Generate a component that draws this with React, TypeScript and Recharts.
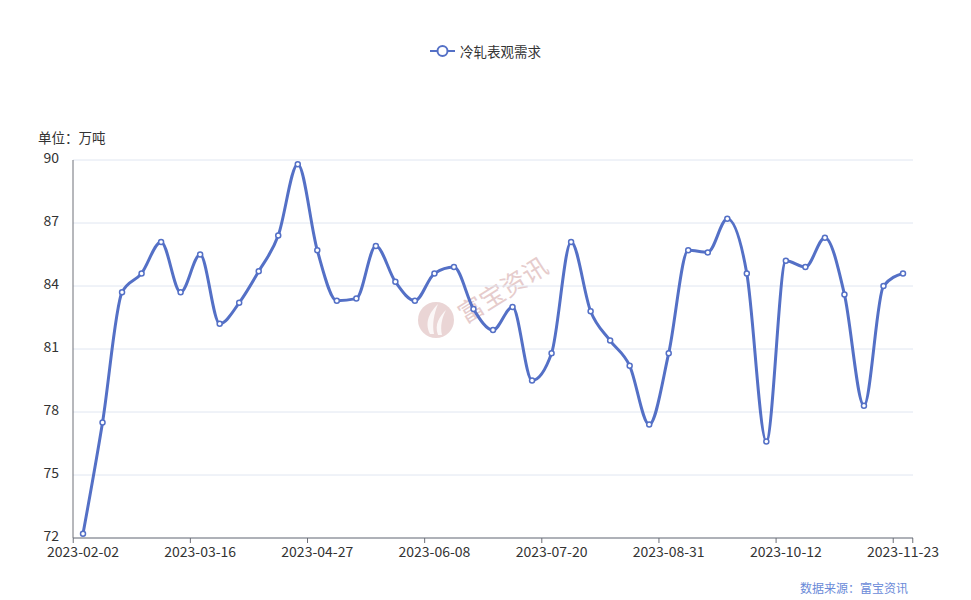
import React from "react";
import { LineChart, Line, XAxis, YAxis, CartesianGrid } from "recharts";

const dates = [
  "2023-02-02", "2023-02-09", "2023-02-16", "2023-02-23", "2023-03-02", "2023-03-09",
  "2023-03-16", "2023-03-23", "2023-03-30", "2023-04-06", "2023-04-13", "2023-04-20",
  "2023-04-27", "2023-05-04", "2023-05-11", "2023-05-18", "2023-05-25", "2023-06-01",
  "2023-06-08", "2023-06-15", "2023-06-22", "2023-06-29", "2023-07-06", "2023-07-13",
  "2023-07-20", "2023-07-27", "2023-08-03", "2023-08-10", "2023-08-17", "2023-08-24",
  "2023-08-31", "2023-09-07", "2023-09-14", "2023-09-21", "2023-09-28", "2023-10-05",
  "2023-10-12", "2023-10-19", "2023-10-26", "2023-11-02", "2023-11-09", "2023-11-16",
  "2023-11-23",
];

const demand = [
  72.2, 77.5, 83.7, 84.6, 86.1, 83.7, 85.5, 82.2, 83.2, 84.7, 86.4, 89.8,
  85.7, 83.3, 83.4, 85.9, 84.2, 83.3, 84.6, 84.9, 82.9, 81.9, 83.0, 79.5,
  80.8, 86.1, 82.8, 81.4, 80.2, 77.4, 80.8, 85.7, 85.6, 87.2, 84.6, 76.6,
  85.2, 84.9, 86.3, 83.6, 78.3, 84.0, 84.6,
];

const yTicks = [72, 75, 78, 81, 84, 87, 90];

const seriesName = "冷轧表观需求";
const LINE_COLOR = "#5470c6";
const AXIS_COLOR = "#6e7079";
const TEXT_COLOR = "#333";
const FONT = "'Noto Sans CJK SC', 'Noto Sans', sans-serif";
const HALF_BAND = 9.77;

const data = dates.map((d, i) => ({ date: d, value: demand[i] }));

function XTick({ x, y, payload }: any) {
  const isLast = payload.value === dates[dates.length - 1];
  return (
    <g>
      <line x1={x - HALF_BAND} x2={x - HALF_BAND} y1={y} y2={y + 5} stroke={AXIS_COLOR} />
      {isLast && <line x1={x + HALF_BAND} x2={x + HALF_BAND} y1={y} y2={y + 5} stroke={AXIS_COLOR} />}
      <text x={x} y={y + 9} dy="0.71em" textAnchor="middle" fill={TEXT_COLOR} fontSize={14} fontFamily={FONT}>
        {payload.value}
      </text>
    </g>
  );
}

function Watermark() {
  return (
    <svg width={971} height={600} style={{ position: "absolute", left: 0, top: 0 }}>
      <g transform="translate(436,320)">
        <circle r={18} fill="#ead5d5" />
        <path d="M-6,14 C-12,2 -6,-8 2,-16 C-2,-6 -4,4 -2,14" fill="#fff" opacity={0.8} />
        <path d="M2,15 C-2,4 4,-4 10,-10 C6,-2 4,6 6,15" fill="#fff" opacity={0.8} />
      </g>
      <text
        x={503}
        y={299}
        textAnchor="middle"
        fontSize={25}
        fill="#e6cccc"
        fontFamily={FONT}
        transform="rotate(-32 503 290)"
      >
        富宝资讯
      </text>
    </svg>
  );
}

export default function App() {
  return (
    <div style={{ position: "absolute", left: 0, top: 0, width: 971, height: 600, background: "#fff", fontFamily: FONT }}>
      <Watermark />
      <div
        style={{
          position: "absolute",
          top: 41,
          left: 0,
          width: 971,
          display: "flex",
          justifyContent: "center",
          alignItems: "center",
          fontSize: 13.5,
          color: TEXT_COLOR,
        }}
      >
        <svg width={25} height={14} style={{ marginRight: 5 }}>
          <line x1={0} x2={25} y1={7} y2={7} stroke={LINE_COLOR} strokeWidth={2} />
          <circle cx={12.5} cy={7} r={5} fill="#fff" stroke={LINE_COLOR} strokeWidth={2} />
        </svg>
        <span>{seriesName}</span>
      </div>
      <div style={{ position: "absolute", left: 38, top: 127, fontSize: 13.5, color: TEXT_COLOR }}>单位：万吨</div>
      <div style={{ position: "absolute", left: 800, top: 579, fontSize: 12, color: "#6a8ad8" }}>数据来源：富宝资讯</div>
      <div style={{ position: "absolute", left: 0, top: 0 }}>
        <LineChart width={971} height={600} data={data} margin={{ top: 160, right: 58, bottom: 32, left: 0 }}>
          <CartesianGrid vertical={false} stroke="#e0e6f1" />
          <XAxis
            dataKey="date"
            interval={5}
            padding={{ left: 10, right: 10 }}
            height={30}
            tickSize={0}
            tickMargin={0}
            tickLine={false}
            axisLine={{ stroke: AXIS_COLOR }}
            tick={<XTick />}
          />
          <YAxis
            domain={[72, 90]}
            ticks={yTicks}
            width={73}
            tickLine={false}
            tickMargin={8}
            axisLine={{ stroke: AXIS_COLOR }}
            tick={{ fill: TEXT_COLOR, fontSize: 14, fontFamily: FONT, dy: -2 }}
          />
          <YAxis
            yAxisId="right"
            orientation="right"
            domain={[72, 90]}
            width={0}
            tick={false}
            tickLine={false}
            axisLine={{ stroke: AXIS_COLOR }}
          />
          <Line
            type="monotone"
            dataKey="value"
            name={seriesName}
            stroke={LINE_COLOR}
            strokeWidth={3}
            dot={{ r: 2.5, fill: "#fff", stroke: LINE_COLOR, strokeWidth: 1.5 }}
            activeDot={false}
            isAnimationActive={false}
          />
        </LineChart>
      </div>
    </div>
  );
}
